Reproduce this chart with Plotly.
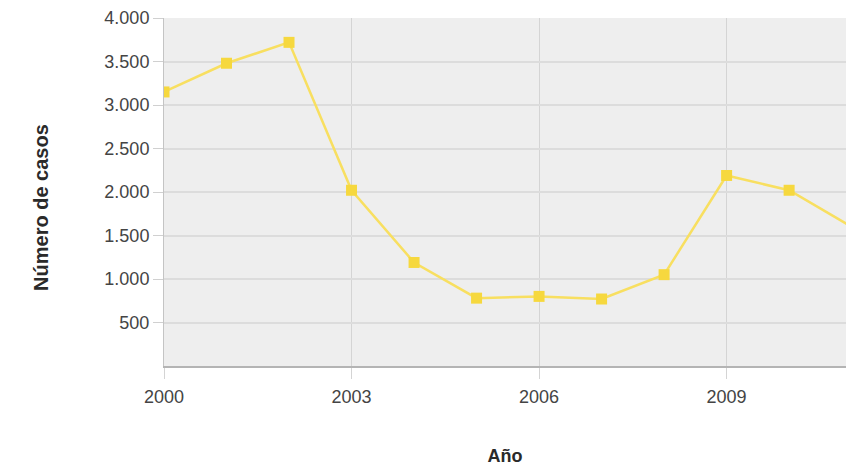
import plotly.graph_objects as go

# Casos registrados por año
anios = [2000, 2001, 2002, 2003, 2004, 2005, 2006, 2007, 2008, 2009, 2010, 2011]
casos = [3150, 3480, 3720, 2020, 1190, 780, 800, 770, 1050, 2190, 2020, 1600]

y_ticks = [500, 1000, 1500, 2000, 2500, 3000, 3500, 4000]
x_ticks = [2000, 2003, 2006, 2009]

fig = go.Figure()
fig.add_trace(go.Scatter(
    x=anios, y=casos, mode="lines+markers",
    line=dict(color="#f8df60", width=2.5),
    marker=dict(symbol="square", size=11, color="#f6d83e"),
    cliponaxis=True, showlegend=False,
))

fig.update_layout(
    width=846, height=466,
    margin=dict(l=164, r=0, t=18, b=100),
    paper_bgcolor="white", plot_bgcolor="#eeeeee",
    separators=",.",
    font=dict(family="Liberation Sans, Arial, sans-serif", color="#444444"),
)
fig.update_xaxes(
    range=[2000, 2010.91], tickvals=x_ticks, tickformat="d",
    showgrid=True, gridcolor="#d4d4d4", gridwidth=1,
    ticks="outside", ticklen=11, tickcolor="#d4d4d4",
    showline=True, linecolor="#b4b4b4", linewidth=1.5,
    zeroline=False, tickfont=dict(size=18), ticklabelstandoff=3,
    title=dict(text="<b>Año</b>", font=dict(size=18, color="#2a2a2a"), standoff=44),
)
fig.update_yaxes(
    range=[0, 4000], tickvals=y_ticks, tickformat=",",
    showgrid=True, gridcolor="#dcdcdc", gridwidth=1.5,
    ticks="outside", ticklen=10, tickcolor="#d0d0d0",
    showline=True, linecolor="#c4c4c4", linewidth=1,
    zeroline=False, tickfont=dict(size=18),
)

# Título del eje vertical, algo por debajo del centro del área de trazado
fig.add_annotation(
    text="<b>Número de casos</b>", textangle=-90,
    xref="paper", yref="paper", x=-0.1804, y=0.457,
    xanchor="center", yanchor="middle", showarrow=False,
    font=dict(size=20, color="#2a2a2a"),
)

fig.write_html("out.html")
